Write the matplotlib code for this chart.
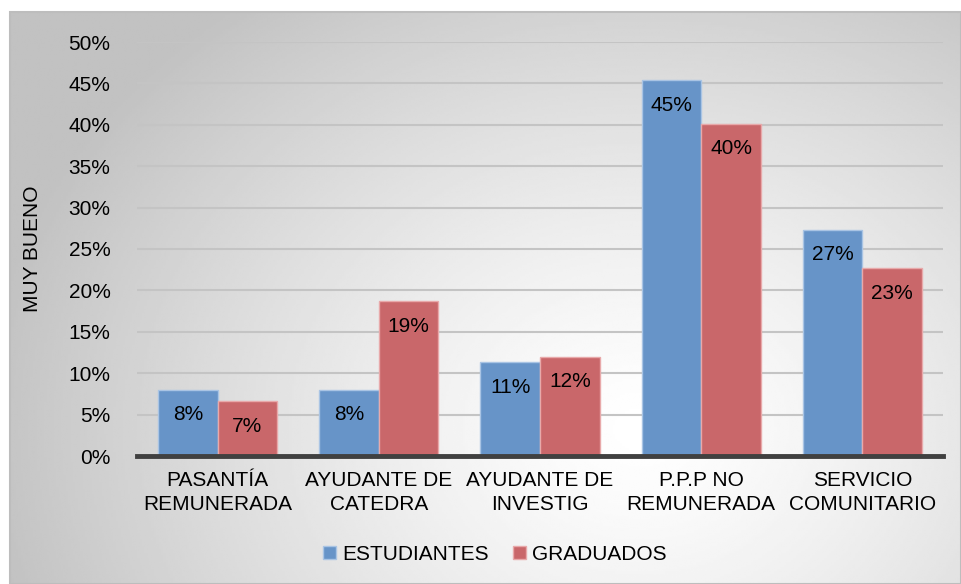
import numpy as np
import matplotlib
matplotlib.use("Agg")
import matplotlib.pyplot as plt
from matplotlib.patches import Patch, Rectangle

categories = ["PASANTÍA\nREMUNERADA", "AYUDANTE DE\nCATEDRA", "AYUDANTE DE\nINVESTIG",
              "P.P.P NO\nREMUNERADA", "SERVICIO\nCOMUNITARIO"]
estudiantes = [0.080, 0.080, 0.113, 0.454, 0.273]
graduados = [0.066, 0.187, 0.120, 0.401, 0.227]
series_names = ["ESTUDIANTES", "GRADUADOS"]
yticks = [0, 0.05, 0.10, 0.15, 0.20, 0.25, 0.30, 0.35, 0.40, 0.45, 0.50]

plt.rcParams['font.family'] = ['Liberation Sans', 'DejaVu Sans']
FS = 15

W, H = 961, 584
fig = plt.figure(figsize=(W / 100, H / 100), dpi=100)
fig.patch.set_facecolor("white")

# radial gradient background of the chart area
bg = fig.add_axes([0, 0, 1, 1], zorder=-10)
bg.set_xlim(0, W)
bg.set_ylim(H, 0)
bg.axis("off")
x0, y0 = 10, 12
gx, gy = np.meshgrid(np.linspace(x0, W, 400), np.linspace(y0, H, 250))
cx, cy = 640, 430
r = np.sqrt(((gx - cx) / 660) ** 2 + ((gy - cy) / 540) ** 2)
val = 1.0 - 0.24 * np.clip(r, 0, 1) ** 1.3
bg.imshow(val, extent=(x0, W, H, y0), cmap="gray", vmin=0, vmax=1,
          aspect="auto", interpolation="bilinear")
bg.add_patch(Rectangle((x0, y0), W - x0, H - y0, fill=False,
                       edgecolor="#bdbdbd", linewidth=1.5))

ax = fig.add_axes([137 / W, 1 - 456 / H, (943 - 137) / W, (456 - 42) / H])
ax.patch.set_alpha(0)

x = np.arange(len(categories))
bw = 0.37
blue = "#6794c8"
red = "#c9676a"
b1 = ax.bar(x - bw / 2, estudiantes, bw, color=blue, edgecolor="#a9c4e4",
            linewidth=1, zorder=3)
b2 = ax.bar(x + bw / 2, graduados, bw, color=red, edgecolor="#e8a9aa",
            linewidth=1, zorder=3)

for bars, vals in ((b1, estudiantes), (b2, graduados)):
    for rect, v in zip(bars, vals):
        ax.annotate(f"{round(v * 100):.0f}%",
                    (rect.get_x() + rect.get_width() / 2, v),
                    xytext=(0, -18), textcoords="offset points",
                    ha="center", va="center", fontsize=FS, color="black",
                    zorder=5)

ax.set_xlim(-0.5, len(categories) - 0.5)
ax.set_ylim(0, 0.5)
ax.set_yticks(yticks)
ax.set_yticklabels([f"{t * 100:.0f}%" for t in yticks], fontsize=FS)
ax.set_xticks(x)
ax.set_xticklabels(categories, fontsize=FS, linespacing=1.3)
ax.tick_params(axis="both", length=0)
ax.tick_params(axis="y", pad=19)
ax.tick_params(axis="x", pad=11)
ax.yaxis.grid(True, color="#c4c4c4", linewidth=1.5, zorder=0)
ax.set_axisbelow(True)
for s in ("top", "right", "left"):
    ax.spines[s].set_visible(False)
ax.spines["bottom"].set_color("#404040")
ax.spines["bottom"].set_linewidth(3.5)
ax.spines["bottom"].set_zorder(4)

ax.set_ylabel("MUY BUENO", fontsize=FS)
ax.yaxis.set_label_coords(-0.118, 0.5)

handles = [Patch(facecolor=blue, edgecolor="#a9c4e4"),
           Patch(facecolor=red, edgecolor="#e8a9aa")]
fig.legend(handles, series_names, loc="center", bbox_to_anchor=(0.515, 1 - 554 / H),
           ncol=2, frameon=False, fontsize=FS, handlelength=0.6,
           handleheight=0.6, handletextpad=0.3, columnspacing=1.2)

fig.savefig("out.png", dpi=100)
